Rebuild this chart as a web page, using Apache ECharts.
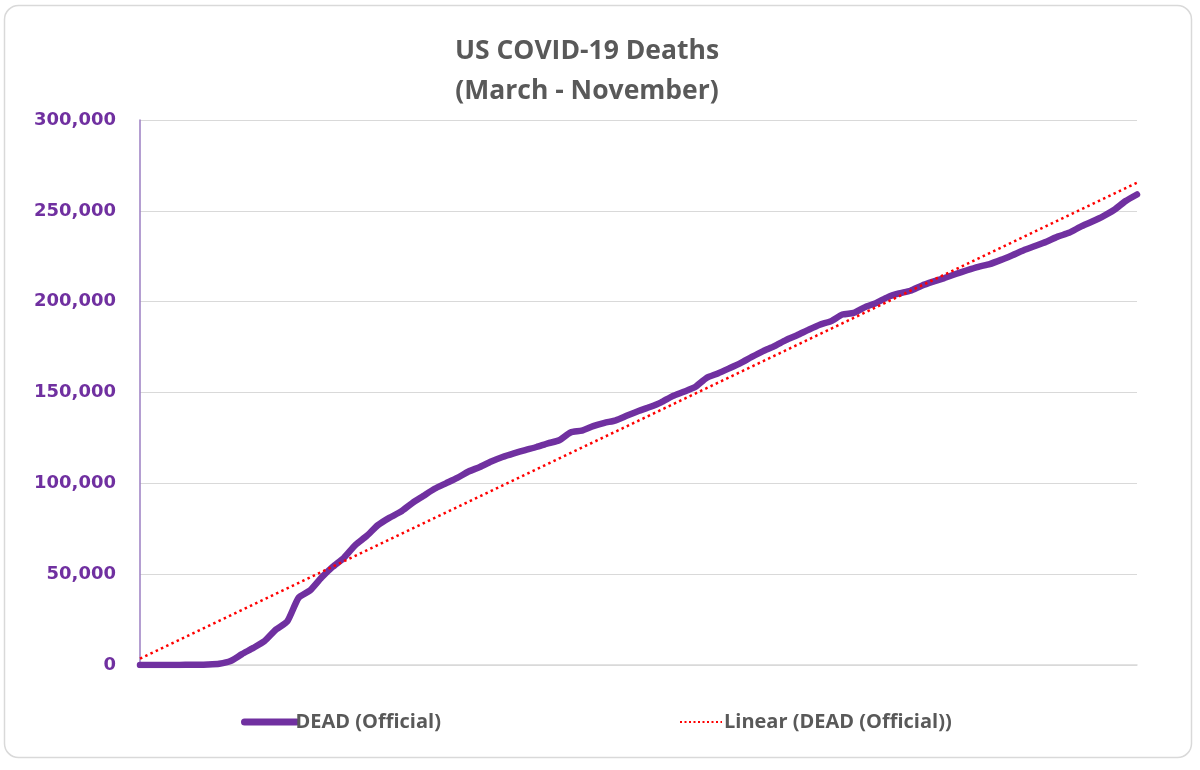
<!DOCTYPE html>
<html>
<head>
<meta charset="utf-8">
<script src="https://cdn.jsdelivr.net/npm/echarts@6/dist/echarts.min.js"></script>
<style>
  html, body { margin: 0; padding: 0; background: #ffffff; }
  #chart { width: 1200px; height: 770px; }
</style>
</head>
<body>
<div id="chart"></div>
<script>
// Dates every 3 days, 1 March to 20 November
const categories = [
  'Mar 1','Mar 4','Mar 7','Mar 10','Mar 13','Mar 16','Mar 19','Mar 22','Mar 25','Mar 28','Mar 31',
  'Apr 3','Apr 6','Apr 9','Apr 12','Apr 15','Apr 18','Apr 21','Apr 24','Apr 27','Apr 30',
  'May 3','May 6','May 9','May 12','May 15','May 18','May 21','May 24','May 27','May 30',
  'Jun 2','Jun 5','Jun 8','Jun 11','Jun 14','Jun 17','Jun 20','Jun 23','Jun 26','Jun 29',
  'Jul 2','Jul 5','Jul 8','Jul 11','Jul 14','Jul 17','Jul 20','Jul 23','Jul 26','Jul 29',
  'Aug 1','Aug 4','Aug 7','Aug 10','Aug 13','Aug 16','Aug 19','Aug 22','Aug 25','Aug 28','Aug 31',
  'Sep 3','Sep 6','Sep 9','Sep 12','Sep 15','Sep 18','Sep 21','Sep 24','Sep 27','Sep 30',
  'Oct 3','Oct 6','Oct 9','Oct 12','Oct 15','Oct 18','Oct 21','Oct 24','Oct 27','Oct 30',
  'Nov 2','Nov 5','Nov 8','Nov 11','Nov 14','Nov 17','Nov 20'
];

// Cumulative official deaths
const deadOfficial = [
  0, 0, 0, 30, 100, 150, 300, 700, 2200, 6000, 9400,
  13200, 19500, 24000, 37000, 41000, 48000, 54000, 59000, 66000, 71000,
  77000, 81000, 84300, 89000, 93000, 97000, 100000, 103000, 106500, 109000,
  112000, 114500, 116500, 118300, 120000, 122000, 123700, 128000, 129000, 131500,
  133300, 134700, 137300, 139800, 142000, 144600, 148000, 150400, 153000, 158000,
  160500, 163300, 166200, 169600, 172800, 175500, 178800, 181500, 184500, 187300, 189300,
  192900, 193800, 197000, 199300, 202500, 204500, 206000, 208800, 211000, 213000,
  215200, 217300, 219200, 220700, 223000, 225600, 228300, 230600, 233000, 235800,
  237900, 241200, 244000, 247000, 250600, 255400, 259000
];

// Linear trendline end points: first and last date
const trendEnds = [3500, 265500];

const yTicks = { min: 0, max: 300000, interval: 50000 };

const trendData = categories.map((c, i) =>
  i === 0 ? trendEnds[0] : (i === categories.length - 1 ? trendEnds[1] : null));

const chart = echarts.init(document.getElementById('chart'), null, { renderer: 'canvas' });

const textGray = '#595959';
const purple = '#7030A0';
const hiddenSymbol = { color: 'rgba(0,0,0,0)', borderWidth: 0, opacity: 0 };

chart.setOption({
  backgroundColor: '#ffffff',
  animation: false,
  graphic: [{
    type: 'rect',
    z: -10,
    shape: { x: 4.5, y: 5.5, width: 1187, height: 752, r: 14 },
    style: { fill: '#ffffff', stroke: '#d9d9d9', lineWidth: 1.5 }
  }],
  title: {
    text: 'US COVID-19 Deaths\n(March - November)',
    left: 582,
    textAlign: 'center',
    top: 26,
    textStyle: {
      fontFamily: 'Open Sans',
      fontWeight: 'bold',
      fontSize: 26.5,
      lineHeight: 40,
      color: textGray
    }
  },
  legend: [{
    data: [{ name: 'DEAD (Official)', itemStyle: hiddenSymbol,
             lineStyle: { width: 7, color: purple, cap: 'round' } }],
    left: 236,
    top: 707,
    itemWidth: 52,
    itemHeight: 14,
    itemGap: 2,
    textStyle: { fontFamily: 'Open Sans', fontWeight: 'bold', fontSize: 20, color: textGray, padding: [0, 0, 0, -6] }
  }, {
    data: [{ name: 'Linear (DEAD (Official))', itemStyle: hiddenSymbol,
             lineStyle: { width: 2, color: '#ff0000', type: [2, 2.5] } }],
    left: 674,
    top: 707,
    itemWidth: 42,
    itemHeight: 14,
    textStyle: { fontFamily: 'Open Sans', fontWeight: 'bold', fontSize: 20, color: textGray, padding: [0, 0, 0, -3] }
  }],
  grid: { left: 140, right: 63, top: 120, bottom: 105, containLabel: false },
  xAxis: {
    type: 'category',
    data: categories,
    boundaryGap: false,
    axisLabel: { show: false },
    axisTick: { show: false },
    axisLine: { show: true, lineStyle: { color: '#d9d9d9', width: 1.5 } },
    splitLine: { show: false }
  },
  yAxis: {
    type: 'value',
    min: yTicks.min,
    max: yTicks.max,
    interval: yTicks.interval,
    axisLine: { show: true, lineStyle: { color: '#9b7ec2', width: 1.5 } },
    axisTick: { show: false },
    axisLabel: {
      margin: 24,
      fontFamily: 'DejaVu Sans',
      fontWeight: 'bold',
      fontSize: 18,
      color: purple,
      formatter: v => v.toLocaleString('en-US')
    },
    splitLine: { show: true, lineStyle: { color: '#d9d9d9', width: 1.2 } }
  },
  series: [{
    name: 'DEAD (Official)',
    type: 'line',
    data: deadOfficial,
    showSymbol: false,
    symbol: 'none',
    smooth: 0.2,
    z: 3,
    lineStyle: { color: purple, width: 6.5, cap: 'round', join: 'round' },
    itemStyle: { color: purple }
  }, {
    name: 'Linear (DEAD (Official))',
    type: 'line',
    data: trendData,
    connectNulls: true,
    showSymbol: false,
    symbol: 'none',
    z: 4,
    lineStyle: { color: '#ff0000', width: 2.5, type: [2.5, 3.3] },
    itemStyle: { color: '#ff0000' }
  }]
});
</script>
</body>
</html>
